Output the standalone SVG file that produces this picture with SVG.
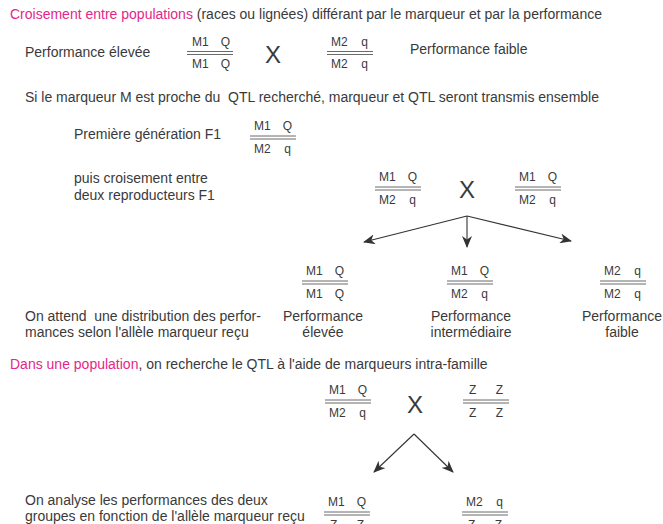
<svg xmlns="http://www.w3.org/2000/svg" width="663" height="524" viewBox="0 0 663 524">
<style>
text{font-family:"Liberation Sans",Arial,sans-serif;font-size:12px;fill:#3a3a3a}
.t{font-size:14px}
.pk{fill:#e5268a}
.x{font-size:24px;text-anchor:middle}
.e{text-anchor:end}
.m{text-anchor:middle}
.dl{stroke:#6a6a6a;stroke-width:1}
.ar{stroke:#333;stroke-width:1.1;fill:none;marker-end:url(#ah)}
</style>
<defs>
<marker id="ah" viewBox="0 0 12 10" refX="11" refY="5" markerWidth="12" markerHeight="10" markerUnits="userSpaceOnUse" orient="auto">
<path d="M0,0 L12,5 L0,10 L3.5,5 Z" fill="#333"/>
</marker>
<g id="bar"><line class="dl" x1="0" y1="0" x2="46" y2="0"/><line class="dl" x1="0" y1="3" x2="46" y2="3"/></g>
</defs>
<rect width="663" height="524" fill="#fff"/>

<g id="title1"><text class="t" x="10" y="19"><tspan class="pk">Croisement entre populations</tspan> (races ou lignées) différant par le marqueur et par la performance</text></g>
<g id="perf-elevee"><text class="t" x="25" y="57">Performance élevée</text></g>
<g id="gen-a" transform="translate(187,51.5)"><use href="#bar"/><text x="5" y="-6">M1</text><text class="e" x="43" y="-6">Q</text><text x="5" y="16.5">M1</text><text class="e" x="43" y="16.5">Q</text></g>
<g id="cross-1"><text class="x" x="273" y="63">X</text></g>
<g id="gen-b" transform="translate(327,51.5)"><use href="#bar"/><text x="4" y="-6">M2</text><text class="e" x="41" y="-6">q</text><text x="4" y="16.5">M2</text><text class="e" x="41" y="16.5">q</text></g>
<g id="perf-faible-1"><text class="t" x="410" y="54">Performance faible</text></g>

<g id="title2"><text class="t" x="25" y="102" xml:space="preserve">Si le marqueur M est proche du  QTL recherché, marqueur et QTL seront transmis ensemble</text></g>
<g id="f1-label"><text class="t" x="74" y="139">Première génération F1</text></g>
<g id="gen-f1" transform="translate(250,136)"><use href="#bar"/><text x="4" y="-6">M1</text><text class="e" x="42" y="-6">Q</text><text x="4" y="16.5">M2</text><text class="e" x="41" y="16.5">q</text></g>

<g id="cross-label"><text class="t" x="74" y="183">puis croisement entre</text><text class="t" x="74" y="200">deux reproducteurs F1</text></g>
<g id="gen-c" transform="translate(375,187)"><use href="#bar"/><text x="4" y="-6">M1</text><text class="e" x="42" y="-6">Q</text><text x="4" y="16.5">M2</text><text class="e" x="41" y="16.5">q</text></g>
<g id="cross-2"><text class="x" x="467" y="198">X</text></g>
<g id="gen-d" transform="translate(515,187)"><use href="#bar"/><text x="4" y="-6">M1</text><text class="e" x="42" y="-6">Q</text><text x="4" y="16.5">M2</text><text class="e" x="41" y="16.5">q</text></g>

<g id="connectors">
<line class="ar" x1="467" y1="216" x2="364" y2="242"/>
<line class="ar" x1="467" y1="216" x2="467" y2="247"/>
<line class="ar" x1="467" y1="216" x2="571" y2="241"/>
<line class="ar" x1="414" y1="434" x2="374" y2="472"/>
<line class="ar" x1="414" y1="434" x2="453" y2="472"/>
</g>

<g id="gen-e" transform="translate(302,281)"><use href="#bar"/><text x="4" y="-6">M1</text><text class="e" x="42" y="-6">Q</text><text x="4" y="16.5">M1</text><text class="e" x="42" y="16.5">Q</text></g>
<g id="gen-f" transform="translate(447,281)"><use href="#bar"/><text x="4" y="-6">M1</text><text class="e" x="42" y="-6">Q</text><text x="4" y="16.5">M2</text><text class="e" x="41" y="16.5">q</text></g>
<g id="gen-g" transform="translate(600,281)"><use href="#bar"/><text x="4" y="-6">M2</text><text class="e" x="41" y="-6">q</text><text x="4" y="16.5">M2</text><text class="e" x="41" y="16.5">q</text></g>

<g id="distrib-label"><text class="t" x="25" y="321" xml:space="preserve">On attend  une distribution des perfor-</text><text class="t" x="25" y="337">mances selon l'allèle marqueur reçu</text></g>
<g id="perf-e"><text class="t m" x="323" y="321">Performance</text><text class="t m" x="323" y="337">élevée</text></g>
<g id="perf-i"><text class="t m" x="471" y="321">Performance</text><text class="t m" x="471" y="337">intermédiaire</text></g>
<g id="perf-f"><text class="t m" x="622" y="321">Performance</text><text class="t m" x="622" y="337">faible</text></g>

<g id="title3"><text class="t" x="10" y="369"><tspan class="pk">Dans une population</tspan>, on recherche le QTL à l'aide de marqueurs intra-famille</text></g>
<g id="gen-h" transform="translate(325,400)"><use href="#bar"/><text x="4" y="-6">M1</text><text class="e" x="42" y="-6">Q</text><text x="4" y="16.5">M2</text><text class="e" x="41" y="16.5">q</text></g>
<g id="cross-3"><text class="x" x="415" y="413">X</text></g>
<g id="gen-i" transform="translate(463,400)"><use href="#bar"/><text x="6" y="-6">Z</text><text class="e" x="40" y="-6">Z</text><text x="6" y="16.5">Z</text><text class="e" x="40" y="16.5">Z</text></g>

<g id="analyse-label"><text class="t" x="25" y="505">On analyse les performances des deux</text><text class="t" x="25" y="521">groupes en fonction de l'allèle marqueur reçu</text></g>
<g id="gen-j" transform="translate(324,512)"><use href="#bar"/><text x="4" y="-6">M1</text><text class="e" x="42" y="-6">Q</text><text x="6" y="16.5">Z</text><text class="e" x="40" y="16.5">Z</text></g>
<g id="gen-k" transform="translate(462,512)"><use href="#bar"/><text x="4" y="-6">M2</text><text class="e" x="41" y="-6">q</text><text x="6" y="16.5">Z</text><text class="e" x="40" y="16.5">Z</text></g>
</svg>
